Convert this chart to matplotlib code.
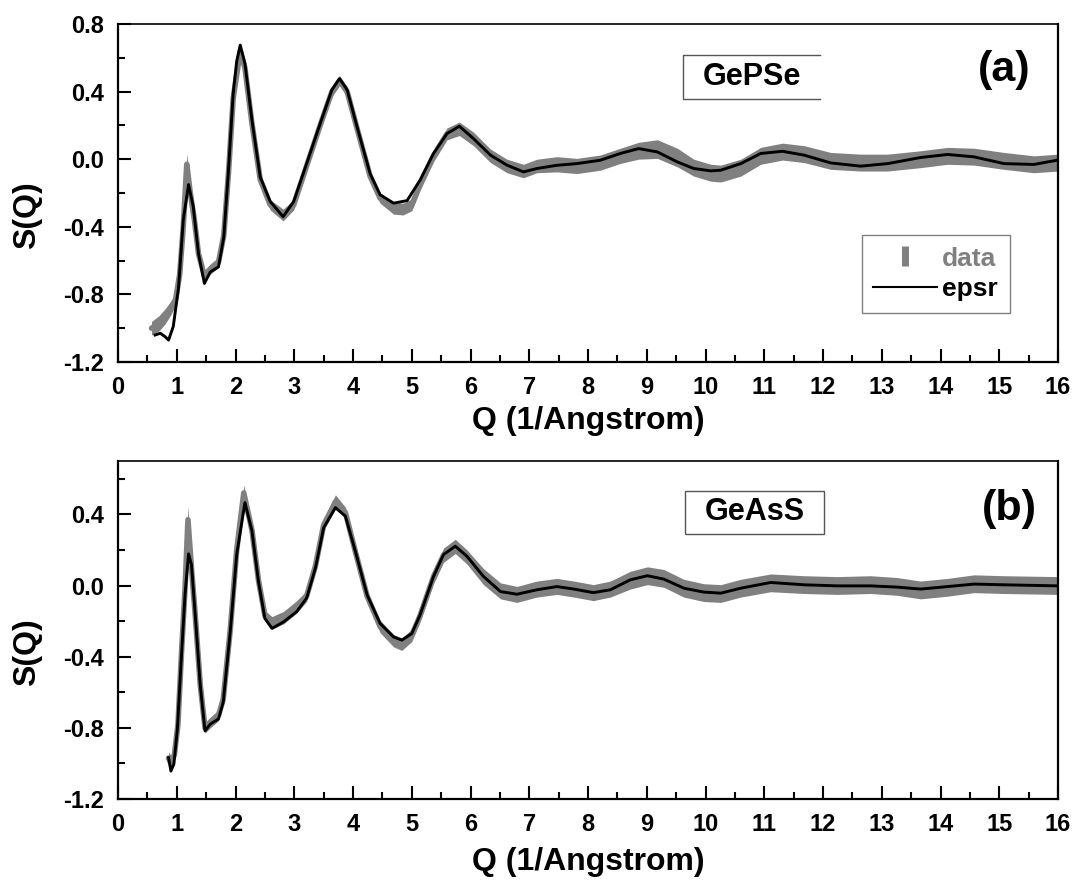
import matplotlib
matplotlib.use('Agg')
import matplotlib.pyplot as plt
from matplotlib.lines import Line2D
from matplotlib.patches import Rectangle
from matplotlib.ticker import MultipleLocator, FormatStrFormatter
import numpy as np

plt.rcParams['font.family'] = ['Liberation Sans', 'DejaVu Sans']
plt.rcParams['font.weight'] = 'bold'
plt.rcParams['axes.unicode_minus'] = False

GRAY = '#808080'

# ---------------- Panel (a): GePSe ----------------
q_a_data = [0.57, 0.70, 0.80, 0.90, 0.98, 1.05, 1.11, 1.17, 1.23, 1.30, 1.37, 1.47, 1.57, 1.71,
            1.80, 1.88, 1.96, 2.08, 2.16, 2.28, 2.42, 2.59, 2.81, 2.99, 3.21, 3.44, 3.64, 3.77,
            3.90, 4.07, 4.29, 4.46, 4.69, 4.85, 5.00, 5.14, 5.37, 5.60, 5.81, 6.05, 6.34, 6.62,
            6.90, 7.13, 7.47, 7.81, 8.21, 8.55, 8.86, 9.18, 9.52, 9.80, 10.09, 10.26, 10.60,
            10.94, 11.31, 11.68, 12.13, 12.64, 13.10, 13.66, 14.12, 14.57, 15.08, 15.59, 16.00]
s_a_data = [-1.00, -0.97, -0.93, -0.88, -0.83, -0.68, -0.40, -0.03, -0.20, -0.36, -0.56, -0.69,
            -0.65, -0.61, -0.45, -0.08, 0.36, 0.64, 0.54, 0.21, -0.12, -0.27, -0.33, -0.27,
            -0.04, 0.20, 0.40, 0.465, 0.40, 0.18, -0.10, -0.23, -0.29, -0.295, -0.27, -0.15,
            0.02, 0.15, 0.18, 0.12, 0.02, -0.04, -0.07, -0.04, -0.03, -0.04, -0.02, 0.02, 0.05,
            0.06, 0.01, -0.05, -0.08, -0.085, -0.05, 0.02, 0.045, 0.03, -0.01, -0.02, -0.02,
            0.00, 0.02, 0.015, -0.01, -0.03, -0.02]
e_a_data = [0.04, 0.045, 0.045, 0.04, 0.03, 0.025, 0.03, 0.065, 0.03, 0.025, 0.025, 0.03, 0.03,
            0.03, 0.025, 0.025, 0.025, 0.03, 0.025, 0.025, 0.025, 0.03, 0.035, 0.03, 0.025,
            0.025, 0.03, 0.03, 0.03, 0.025, 0.025, 0.03, 0.035, 0.035, 0.035, 0.035, 0.035, 0.035,
            0.04, 0.04, 0.04, 0.04, 0.04, 0.04, 0.045, 0.045, 0.045, 0.045, 0.05, 0.055,
            0.055, 0.05, 0.05, 0.05, 0.05, 0.05, 0.05, 0.05, 0.05, 0.05, 0.05, 0.05,
            0.05, 0.05, 0.05, 0.05, 0.05]

q_a_epsr = [0.63, 0.72, 0.80, 0.86, 0.94, 1.03, 1.11, 1.20, 1.28, 1.37, 1.47, 1.57, 1.71, 1.80,
            1.88, 1.96, 2.02, 2.08, 2.16, 2.28, 2.42, 2.59, 2.81, 2.99, 3.21, 3.44, 3.64, 3.77,
            3.90, 4.07, 4.29, 4.46, 4.69, 4.92, 5.14, 5.37, 5.60, 5.81, 6.05, 6.34, 6.62, 6.90,
            7.13, 7.47, 7.81, 8.21, 8.55, 8.86, 9.18, 9.52, 9.80, 10.09, 10.26, 10.60, 10.94,
            11.31, 11.68, 12.13, 12.64, 13.10, 13.66, 14.12, 14.57, 15.08, 15.59, 16.00]
s_a_epsr = [-1.04, -1.03, -1.05, -1.07, -0.99, -0.76, -0.36, -0.15, -0.28, -0.56, -0.735, -0.667,
            -0.637, -0.46, -0.065, 0.39, 0.58, 0.675, 0.566, 0.23, -0.105, -0.25, -0.34, -0.25,
            -0.026, 0.21, 0.41, 0.477, 0.41, 0.19, -0.085, -0.21, -0.26, -0.245, -0.124, 0.034,
            0.152, 0.195, 0.122, 0.024, -0.035, -0.075, -0.055, -0.036, -0.026, -0.006, 0.034,
            0.063, 0.043, -0.016, -0.055, -0.069, -0.065, -0.026, 0.034, 0.047, 0.024, -0.022,
            -0.041, -0.026, 0.010, 0.028, 0.014, -0.026, -0.031, -0.005]

# ---------------- Panel (b): GeAsS ----------------
q_b_data = [0.86, 0.90, 0.96, 1.02, 1.08, 1.14, 1.19, 1.25, 1.31, 1.40, 1.48, 1.57, 1.71, 1.79,
            1.91, 2.02, 2.14, 2.28, 2.39, 2.50, 2.62, 2.82, 3.04, 3.21, 3.36, 3.50, 3.70, 3.87,
            4.04, 4.24, 4.46, 4.69, 4.83, 5.00, 5.14, 5.37, 5.54, 5.74, 5.94, 6.22, 6.51, 6.79,
            7.13, 7.47, 7.76, 8.09, 8.38, 8.72, 9.01, 9.29, 9.63, 9.97, 10.26, 10.60, 11.11,
            11.68, 12.24, 12.81, 13.26, 13.66, 14.12, 14.57, 15.08, 16.00]
s_b_data = [-0.97, -1.00, -0.95, -0.78, -0.38, -0.02, 0.37, 0.10, -0.15, -0.56, -0.80, -0.77,
            -0.73, -0.64, -0.25, 0.20, 0.52, 0.31, 0.03, -0.17, -0.21, -0.18, -0.12, -0.06, 0.11,
            0.34, 0.47, 0.41, 0.19, -0.06, -0.23, -0.31, -0.33, -0.28, -0.17, 0.05, 0.17, 0.22,
            0.16, 0.05, -0.03, -0.05, -0.02, -0.005, -0.02, -0.04, -0.02, 0.03, 0.055, 0.04,
            -0.015, -0.04, -0.045, -0.015, 0.015, 0.005, 0.0, 0.005, -0.005, -0.025, -0.01, 0.01,
            0.005, 0.0]
e_b_data = [0.035, 0.045, 0.035, 0.03, 0.03, 0.03, 0.075, 0.03, 0.03, 0.03, 0.03, 0.03, 0.03, 0.03,
            0.03, 0.03, 0.045, 0.03, 0.03, 0.03, 0.035, 0.035, 0.035, 0.03, 0.03, 0.03, 0.04, 0.03,
            0.03, 0.03, 0.035, 0.035, 0.035, 0.035, 0.035, 0.04, 0.04, 0.04, 0.04, 0.045, 0.045,
            0.045, 0.045, 0.045, 0.045, 0.045, 0.045, 0.05, 0.05, 0.05, 0.05, 0.05, 0.05, 0.05,
            0.05, 0.05, 0.05, 0.05, 0.05, 0.05, 0.05, 0.05, 0.05, 0.05]

q_b_epsr = [0.86, 0.90, 0.95, 1.01, 1.08, 1.14, 1.20, 1.25, 1.31, 1.40, 1.48, 1.57, 1.71, 1.79,
            1.91, 2.02, 2.16, 2.28, 2.39, 2.50, 2.62, 2.82, 3.04, 3.21, 3.36, 3.50, 3.70, 3.87,
            4.04, 4.24, 4.46, 4.69, 4.83, 5.00, 5.14, 5.37, 5.54, 5.74, 5.94, 6.22, 6.51, 6.79,
            7.13, 7.47, 7.76, 8.09, 8.38, 8.72, 9.01, 9.29, 9.63, 9.97, 10.26, 10.60, 11.11,
            11.68, 12.24, 12.81, 13.26, 13.66, 14.12, 14.57, 15.08, 16.00]
s_b_epsr = [-0.968, -1.043, -1.005, -0.807, -0.392, -0.053, 0.178, 0.117, -0.147, -0.562, -0.817,
            -0.779, -0.75, -0.656, -0.26, 0.174, 0.466, 0.306, 0.023, -0.185, -0.241, -0.204,
            -0.147, -0.071, 0.098, 0.325, 0.438, 0.39, 0.192, -0.053, -0.213, -0.289, -0.307,
            -0.27, -0.166, 0.051, 0.174, 0.221, 0.164, 0.051, -0.034, -0.049, -0.024, -0.006,
            -0.02, -0.04, -0.024, 0.032, 0.055, 0.036, -0.015, -0.037, -0.043, -0.015, 0.017,
            0.004, -0.002, -0.002, -0.009, -0.02, -0.006, 0.008, 0.004, -0.002]

sample_names = ['GePSe', 'GeAsS']
panel_tags = ['(a)', '(b)']
x_ticks = list(range(0, 17))
y_ticks_a = [-1.2, -0.8, -0.4, 0.0, 0.4, 0.8]
y_ticks_b = [-1.2, -0.8, -0.4, 0.0, 0.4]

fig = plt.figure(figsize=(10.76, 8.86), dpi=100)
ax_a = fig.add_axes([0.1097, 0.5914, 0.8736, 0.3815])
ax_b = fig.add_axes([0.1097, 0.0982, 0.8736, 0.3815])


def draw_panel(ax, qd, sd, ed, qe, se, ylim, yticks, name, tag, box_pts, text_xy, tag_xy,
               xlab_y, three_sided):
    qd = np.asarray(qd); sd = np.asarray(sd); ed = np.asarray(ed)
    ax.fill_between(qd, sd - ed, sd + ed, color=GRAY, lw=0, zorder=2)
    ax.plot(qd, sd, color=GRAY, lw=4.0, zorder=2, solid_joinstyle='round',
            solid_capstyle='round')
    ax.plot(qe, se, color='black', lw=2.1, zorder=3, solid_joinstyle='round')
    ax.set_xlim(0, 16)
    ax.set_ylim(*ylim)
    ax.set_xticks(x_ticks)
    ax.xaxis.set_minor_locator(MultipleLocator(0.5))
    ax.set_yticks(yticks)
    ax.yaxis.set_minor_locator(MultipleLocator(0.2))
    ax.yaxis.set_major_formatter(FormatStrFormatter('%.1f'))
    ax.tick_params(which='major', direction='in', length=9.5, width=1.5, labelsize=17,
                   pad=10, top=False, right=False)
    ax.tick_params(which='minor', direction='in', length=5, width=1.5, top=False, right=False)
    for lbl in ax.get_xticklabels() + ax.get_yticklabels():
        lbl.set_fontweight('bold')
    for side in ['left', 'bottom', 'right']:
        ax.spines[side].set_linewidth(1.6)
    ax.spines['top'].set_linewidth(1.2)
    ax.set_xlabel('Q (1/Angstrom)', fontsize=23, fontweight='bold')
    ax.set_ylabel('S(Q)', fontsize=23, fontweight='bold')
    ax.xaxis.set_label_coords(0.5, xlab_y)
    ax.yaxis.set_label_coords(-0.081, 0.435)
    x0, y0, x1, y1 = box_pts
    if three_sided:
        ax.add_line(Line2D([x1, x0, x0, x1], [y0, y0, y1, y1], transform=ax.transAxes,
                           color='#555555', lw=1.0, zorder=5))
    else:
        ax.add_patch(Rectangle((x0, y0), x1 - x0, y1 - y0, transform=ax.transAxes,
                               facecolor='none', edgecolor='#555555', lw=1.0, zorder=5))
    ax.text(text_xy[0], text_xy[1], name, transform=ax.transAxes, fontsize=22,
            fontweight='bold', ha='center', va='center', zorder=6)
    ax.text(tag_xy[0], tag_xy[1], tag, transform=ax.transAxes, fontsize=31,
            fontweight='bold', ha='center', va='center', zorder=6)


draw_panel(ax_a, q_a_data, s_a_data, e_a_data, q_a_epsr, s_a_epsr, (-1.2, 0.8), y_ticks_a,
           sample_names[0], panel_tags[0], (0.601, 0.778, 0.747, 0.908), (0.674, 0.842),
           (0.943, 0.864), -0.13, True)
draw_panel(ax_b, q_b_data, s_b_data, e_b_data, q_b_epsr, s_b_epsr, (-1.2, 0.7), y_ticks_b,
           sample_names[1], panel_tags[1], (0.603, 0.784, 0.751, 0.911), (0.677, 0.848),
           (0.948, 0.858), -0.142, False)

handles = [Line2D([], [], color=GRAY, marker='|', ls='none', ms=15, mew=5),
           Line2D([], [], color='black', lw=1.5)]
leg = ax_a.legend(handles, ['data', 'epsr'], loc='lower left', bbox_to_anchor=(0.791, 0.145),
                  borderaxespad=0, fontsize=19, handlelength=2.4, handletextpad=0.2,
                  labelspacing=0.25, borderpad=0.45, fancybox=False, framealpha=1,
                  edgecolor=GRAY, prop={'weight': 'bold', 'size': 19})
leg.get_frame().set_linewidth(1.0)
leg.get_texts()[0].set_color(GRAY)

fig.savefig('out.png', dpi=100)
